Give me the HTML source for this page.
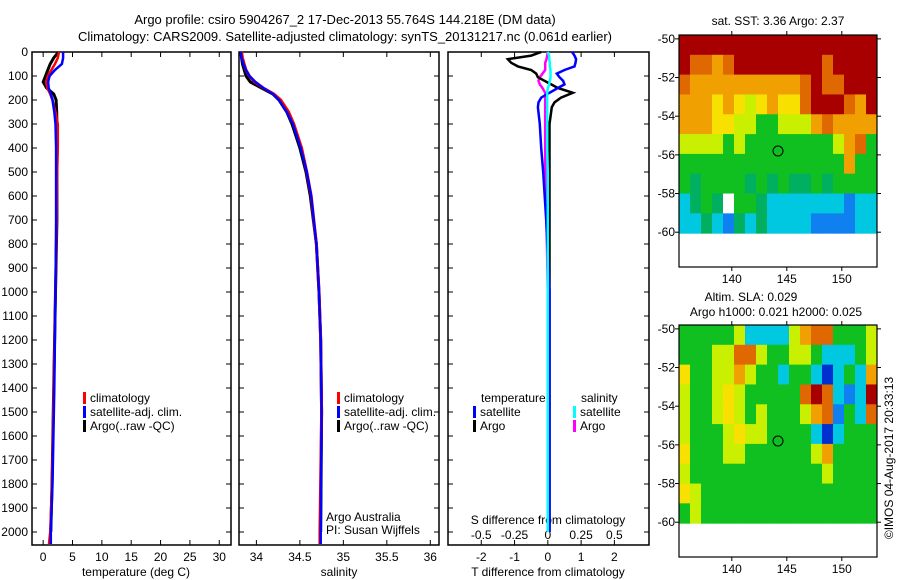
<!DOCTYPE html>
<html><head><meta charset="utf-8"><style>
body{margin:0;background:#fff}
svg{display:block;font-family:"Liberation Sans",sans-serif;font-size:12px}
</style></head><body>
<svg id="c" width="900" height="580" viewBox="0 0 900 580">
<text x="345" y="24" text-anchor="middle" font-size="13">Argo profile: csiro 5904267_2 17-Dec-2013 55.764S 144.218E (DM data)</text>
<text x="345" y="41" text-anchor="middle" font-size="13">Climatology: CARS2009. Satellite-adjusted climatology: synTS_20131217.nc (0.061d earlier)</text>
<g id="g"></g>
</svg>
<script>
// ---- data ----
const tDepth=[0,25,50,75,100,125,150,175,200,250,300,400,500,700,1000,1400,1800,2000,2050];
const tClim=[2.7,2.5,2.0,1.4,0.8,0.5,0.7,1.2,1.6,2.1,2.5,2.5,2.4,2.3,2.1,1.8,1.5,1.2,1.0];
const tSat=[3.4,3.4,3.2,2.0,1.1,0.85,0.95,1.3,1.6,1.9,2.1,2.2,2.2,2.2,2.1,1.9,1.6,1.3,1.3];
const tArgo=[2.6,1.8,1.2,0.8,0.4,0.0,0.6,1.8,2.2,2.3,2.35,2.35,2.35,2.35,2.1,1.8,1.5,1.3];
const sDepth=[0,25,50,75,100,125,150,175,200,250,300,400,500,600,800,1000,1200,1500,2000,2050];
const sClim=[33.83,33.84,33.86,33.88,33.92,33.98,34.08,34.20,34.28,34.37,34.43,34.52,34.58,34.63,34.69,34.72,34.74,34.75,34.73,34.73];
const sSat=[33.82,33.83,33.85,33.88,33.92,33.99,34.08,34.19,34.26,34.35,34.42,34.51,34.58,34.63,34.69,34.72,34.74,34.75,34.74,34.74];
const sArgo=[33.82,33.83,33.84,33.86,33.88,33.93,34.06,34.19,34.26,34.35,34.41,34.50,34.57,34.62,34.69,34.72,34.74,34.75,34.74];
const dDepth=[0,15,30,45,60,75,90,105,120,135,150,170,190,210,230,300,400,500,700,1000,1500,2000];
const dTArgo=[-0.2,-0.5,-1.2,-1.1,-0.9,-0.5,-0.35,-0.3,-0.1,0.1,0.3,0.75,0.4,0.2,0.12,0.05,0.05,0.05,0.05,0.05,0.05,0.05];
const dTSat=[0.73,0.8,0.85,0.83,0.8,0.5,0.27,0.35,0.46,0.5,0.3,0.05,-0.2,-0.28,-0.3,-0.24,-0.2,-0.14,-0.05,0.05,0.05,0.05];
const dSArgo=[0,-0.005,-0.01,-0.02,-0.02,-0.02,-0.04,-0.06,-0.07,-0.06,-0.04,-0.02,-0.02,-0.02,-0.02,-0.02,-0.02,-0.02,-0.01,0,0,0];
const dSSat=[0,0.01,0.01,0.015,0.015,0.02,0.02,0.02,0.015,0.01,0,-0.005,-0.005,-0.005,-0.005,-0.005,-0.005,0,0,0,0,0];
const depthTicks=[0,100,200,300,400,500,600,700,800,900,1000,1100,1200,1300,1400,1500,1600,1700,1800,1900,2000];
const tTicks=[0,5,10,15,20,25,30];
const sTicks=[34,34.5,35,35.5,36];
const dTTicks=[-2,-1,0,1,2];
const dSTicks=["-0.5","-0.25","0","0.25","0.5"];
const latTicks=[-50,-52,-54,-56,-58,-60];
const lonTicks=[140,145,150];
const sstGrid=["RRRRRRRRRRRRRRRRRR","ROOoORRRRRRRRORRRR","OooooooooooOROORRR","oooYoYyYoYYORRROoR","oooYYyyGGyyyoOoooo","yyyyGyGGGGGGGGyoOG","GGGGGGGGGGGGGGGoGG","GgGGGGgGgGggGgGGGG","CgGgWGGgCCCCCCCBCC","CCgCBgCgCCCCBBBBCC"];
const slaGrid=["GGGGGyCCCCyoOOGGGy","GGGyyOOyGGyyGCCCGy","YGGyyoyGGCGGCDCGCo","yGGyYyGGGGGOROCBCR","yGGyYyGyGGGyoOBGCO","yGGGyYyyGGGGCDCGGG","YGGGyyGGGGGGyoGGGG","yGGGGGGGGGGGGyGGGG","YyGGGGGGGGGGGGGGGG","GyGGGGGGGGGGGGGGGG"];
const argoPos=[144.2,-55.8];
// ---- drawing ----
const NS="http://www.w3.org/2000/svg",G=document.getElementById('g');
function el(t,a,txt){const e=document.createElementNS(NS,t);for(const k in a)e.setAttribute(k,a[k]);if(txt!=null)e.textContent=txt;G.appendChild(e);return e;}
const Y0=52,Y1=545;const yD=d=>Y0+d*0.24;
const P1={x0:32,x1:231,v0:-1.9,v1:32};
const P2={x0:239,x1:439,v0:33.8,v1:36.1};
const P3={x0:448,x1:649,v0:-3,v1:3.04};
const sx=(p,v)=>p.x0+(v-p.v0)/(p.v1-p.v0)*(p.x1-p.x0);
function frame(p,name){const r=el('rect',{x:p.x0,y:Y0,width:p.x1-p.x0,height:Y1-Y0,fill:'none',stroke:'#000','stroke-width':1.5});

for(const d of depthTicks){el('line',{x1:p.x0,x2:p.x0+5,y1:yD(d),y2:yD(d),stroke:'#000'});el('line',{x1:p.x1-5,x2:p.x1,y1:yD(d),y2:yD(d),stroke:'#000'});}}
function xticks(p,vals,labs,name){vals.forEach((v,i)=>{const x=sx(p,v);el('line',{x1:x,x2:x,y1:Y0,y2:Y0+5,stroke:'#000'});el('line',{x1:x,x2:x,y1:Y1-5,y2:Y1,stroke:'#000'});
const t=el('text',{x:x,y:561,'text-anchor':'middle'},labs[i]);});}
function line(p,vals,deps,col,w,name){const pts=vals.map((v,i)=>sx(p,v).toFixed(1)+','+yD(deps[i]).toFixed(1)).join(' ');
const l=el('polyline',{points:pts,fill:'none',stroke:col,'stroke-width':w,'stroke-linejoin':'miter'});}
frame(P1,'temperature-panel');frame(P2,'salinity-panel');frame(P3,'difference-panel');
depthTicks.forEach(d=>{const t=el('text',{x:28,y:yD(d)+4,'text-anchor':'end'},d);});
xticks(P1,tTicks,tTicks.map(String),'temperature-tick-label');
xticks(P2,sTicks,sTicks.map(String),'salinity-tick-label');
xticks(P3,dTTicks,dTTicks.map(String),'t-diff-tick-label');
dSTicks.forEach((s,i)=>{const x=sx(P3,dTTicks[i]);const t=el('text',{x:x,y:539,'text-anchor':'middle'},s);});
[[136,'temperature (deg C)','x-axis-title-temperature'],[339,'salinity','x-axis-title-salinity'],[548,'T difference from climatology','x-axis-title-t-diff']].forEach(a=>{const t=el('text',{x:a[0],y:576,'text-anchor':'middle'},a[1]);});
{const t=el('text',{x:548,y:524,'text-anchor':'middle'},'S difference from climatology');}
line(P1,tArgo,tDepth,'#000',3,'temp-argo-line');line(P1,tClim,tDepth,'#f00',2.5,'temp-climatology-line');line(P1,tSat,tDepth,'#00f',2.5,'temp-satellite-line');
line(P2,sArgo,sDepth,'#000',3,'sal-argo-line');line(P2,sClim,sDepth,'#f00',3,'sal-climatology-line');line(P2,sSat,sDepth,'#00f',2.5,'sal-satellite-line');
const P3s={x0:P3.x0,x1:P3.x1,v0:P3.v0/4,v1:P3.v1/4};
line(P3s,dSArgo,dDepth,'#f0f',2.5,'s-diff-argo-line');line(P3,dTArgo,dDepth,'#000',2.5,'t-diff-argo-line');line(P3,dTSat,dDepth,'#00f',2.5,'t-diff-satellite-line');line(P3s,dSSat,dDepth,'#0ff',2.5,'s-diff-satellite-line');
function leg(x,y,col,txt,name){el('rect',{x:x,y:y-10,width:3,height:12,fill:col});const t=el('text',{x:x+7,y:y},txt);}
leg(83,402,'#f00','climatology','legend-climatology');leg(83,416,'#00f','satellite-adj. clim.','legend-satellite');leg(83,430,'#000','Argo(..raw -QC)','legend-argo');
leg(337,402,'#f00','climatology','legend-climatology-2');leg(337,416,'#00f','satellite-adj. clim.','legend-satellite-2');leg(337,430,'#000','Argo(..raw -QC)','legend-argo-2');
{let t=el('text',{x:481,y:402},'temperature');
t=el('text',{x:581,y:402},'salinity');}
leg(473,416,'#00f','satellite','legend-t-satellite');leg(473,430,'#000','Argo','legend-t-argo');leg(573,416,'#0ff','satellite','legend-s-satellite');leg(573,430,'#f0f','Argo','legend-s-argo');
{let t=el('text',{x:326,y:521},'Argo Australia');
t=el('text',{x:326,y:534},'PI: Susan Wijffels');}
// maps
const COL={R:'#a80000',O:'#e06800',o:'#f0a000',Y:'#f8e000',y:'#c8f000',G:'#10c020',g:'#00b060',C:'#00c8e0',B:'#1080f0',D:'#0030d0',W:'#ffffff'};
function map(top,grid,name){const X0=679,X1=877,Y0m=top,Y1m=top+232,lon0=135.2,lon1=153.2,lat0=-49.8,lat1=-61.8;
const mx=l=>X0+(l-lon0)/(lon1-lon0)*(X1-X0),my=l=>Y0m+(l-lat0)/(lat1-lat0)*(Y1m-Y0m);
const nr=grid.length,nc=grid[0].length;const cw=(X1-X0)/nc,ch=(my(-60.05)-Y0m)/nr;
grid.forEach((row,r)=>{for(let c=0;c<nc;c++){const e=el('rect',{x:X0+c*cw,y:Y0m+r*ch,width:cw+0.5,height:ch+0.5,fill:COL[row[c]]});}});
const f=el('rect',{x:X0,y:Y0m,width:X1-X0,height:Y1m-Y0m,fill:'none',stroke:'#000','stroke-width':1.2});
latTicks.forEach(l=>{el('line',{x1:X0-4,x2:X0,y1:my(l),y2:my(l),stroke:'#000'});el('line',{x1:X1,x2:X1+4,y1:my(l),y2:my(l),stroke:'#000'});const t=el('text',{x:X0-4,y:my(l)+4,'text-anchor':'end'},l);});
lonTicks.forEach(l=>{el('line',{x1:mx(l),x2:mx(l),y1:Y0m-4,y2:Y0m,stroke:'#000'});el('line',{x1:mx(l),x2:mx(l),y1:Y1m,y2:Y1m+4,stroke:'#000'});const t=el('text',{x:mx(l),y:Y1m+16,'text-anchor':'middle'},l);});
const c=el('circle',{cx:mx(argoPos[0]),cy:my(argoPos[1]),r:5,fill:'none',stroke:'#000'});}
map(35,sstGrid,'sst-map');map(325,slaGrid,'sla-map');
{let t=el('text',{x:778,y:25,'text-anchor':'middle'},'sat. SST: 3.36 Argo: 2.37');
t=el('text',{x:751,y:301,'text-anchor':'middle'},'Altim. SLA: 0.029');
t=el('text',{x:776,y:316,'text-anchor':'middle'},'Argo h1000: 0.021 h2000: 0.025');
t=el('text',{x:0,y:0,'text-anchor':'middle',transform:'translate(893,458) rotate(-90)'},'©IMOS 04-Aug-2017 20:33:13');}
</script>
</body></html>
